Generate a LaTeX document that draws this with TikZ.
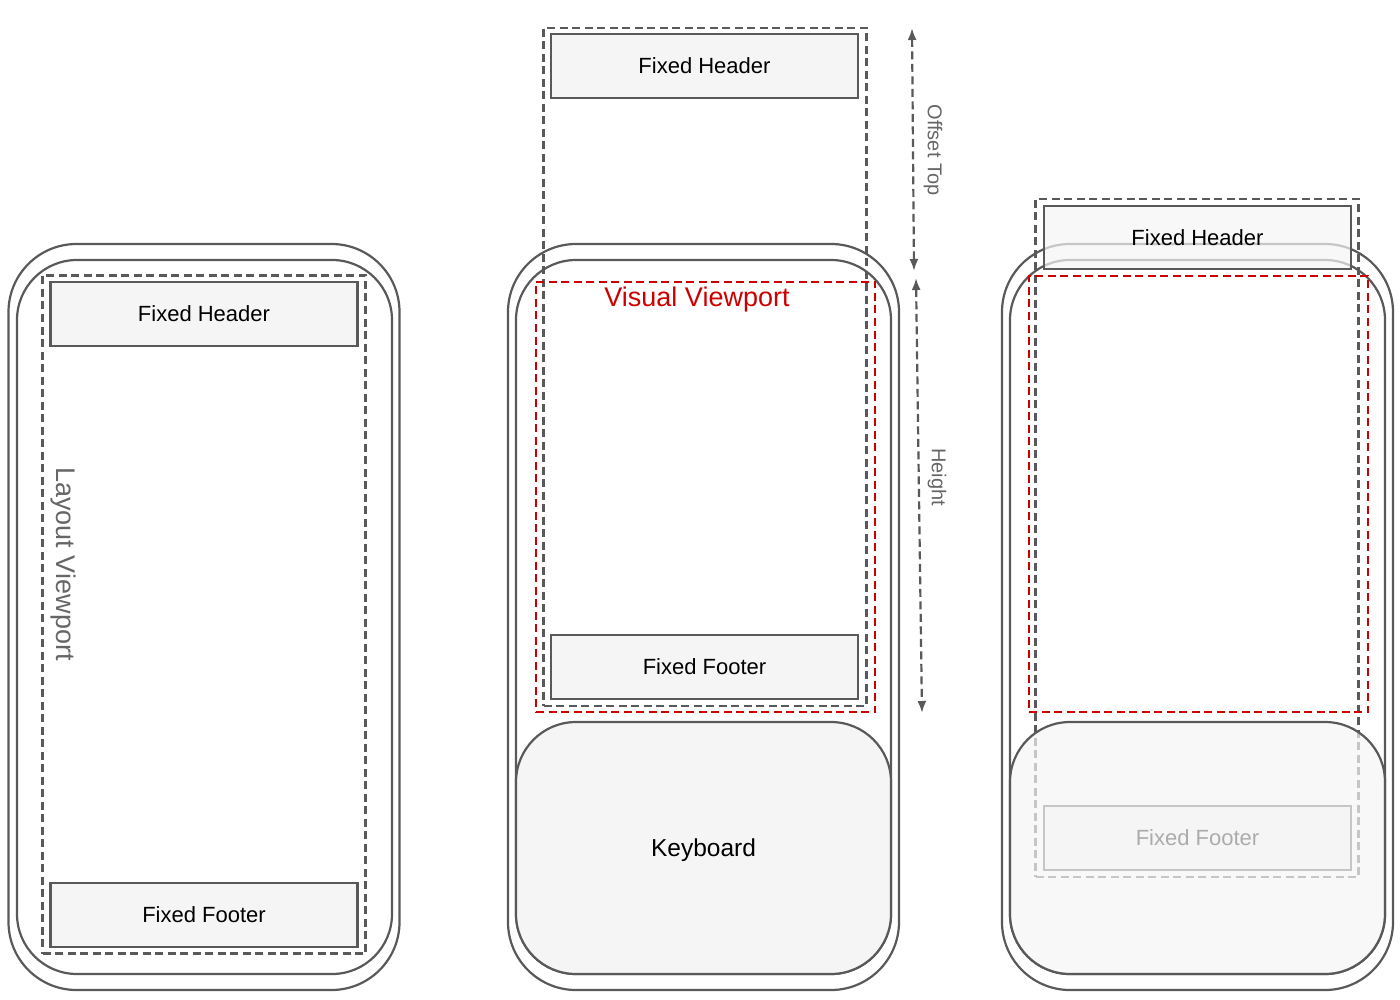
\documentclass[tikz,border=0pt]{standalone}
\usepackage{fontspec}
\setmainfont{Liberation Sans}
\usetikzlibrary{arrows.meta}
\definecolor{lc}{HTML}{595959}
\definecolor{bf}{HTML}{F5F5F5}
\definecolor{vr}{HTML}{CC0000}
\definecolor{tg}{HTML}{666666}
\begin{document}
\begin{tikzpicture}[x=1pt,y=-1pt,
  every node/.style={inner sep=0pt, outer sep=0pt},
  phoneout/.style={draw=lc, line width=2.2pt, rounded corners=68pt, minimum width=391pt, minimum height=746pt},
  phonein/.style={draw=lc, line width=2.2pt, rounded corners=60pt, minimum width=375pt, minimum height=714pt},
  layoutvp/.style={draw=lc, line width=2.2pt, dash pattern=on 8pt off 4.5pt, minimum width=323pt, minimum height=678pt},
  visualvp/.style={draw=vr, line width=2.2pt, dash pattern=on 8pt off 4.5pt, minimum width=339pt},
  fixedbox/.style={draw=lc, fill=bf, line width=2.2pt, minimum width=307pt, minimum height=64pt, font=\fontsize{22}{26}\selectfont},
  kbd/.style={draw=lc, fill=bf, line width=2.2pt, rounded corners=60pt, minimum width=375pt, minimum height=252pt},
  kbdtxt/.style={font=\fontsize{24.5}{28}\selectfont},
  bigtxt/.style={font=\fontsize{27}{32}\selectfont},
  dimtxt/.style={text=tg, font=\fontsize{20}{24}\selectfont, rotate=-90},
  dimarrow/.style={draw=lc, line width=2.2pt, dash pattern=on 8pt off 4.5pt, {Latex[length=12pt,width=9pt]}-{Latex[length=12pt,width=9pt]}}
]
\useasboundingbox (0,0) rectangle (1400,1000);

% ---------- Phone 1 ----------
\node[phoneout] (p1out) at (204,617) {};
\node[phonein]  (p1in)  at (204.5,617) {};
\node[layoutvp] (p1lvp) at (204,614.5) {};
\node[fixedbox] (p1head) at (204,314) {Fixed Header};
\node[fixedbox] (p1foot) at (204,915) {Fixed Footer};
\node[bigtxt, text=tg, rotate=-90] (p1lbl) at (63,564) {Layout Viewport};

% ---------- Phone 2 ----------
\node[phoneout] (p2out) at (703.5,617) {};
\node[phonein]  (p2in)  at (703.5,617) {};
\node[layoutvp] (p2lvp) at (705,367) {};
\node[fixedbox] (p2head) at (704.5,66) {Fixed Header};
\node[fixedbox] (p2foot) at (704.5,667) {Fixed Footer};
\node[visualvp, minimum height=430pt] (p2vvp) at (705.5,497) {};
\node[bigtxt, text=vr, anchor=base] (p2lbl) at (697,306) {Visual Viewport};
\node[kbd] (p2kbd) at (703.5,848) {};
\node[kbdtxt] (p2kbdlbl) at (703.5,850) {Keyboard};

% dimension arrows
\coordinate (otA) at (912,28);
\coordinate (otB) at (914,271);
\draw[dimarrow] (otA) -- (otB);
\node[dimtxt] (otlbl) at (933,150) {Offset Top};
\coordinate (hA) at (916,278);
\coordinate (hB) at (922,713);
\draw[dimarrow] (hA) -- (hB);
\node[dimtxt] (hlbl) at (937,477) {Height};

% ---------- Phone 3 ----------
\node[phoneout] (p3out) at (1197.5,617) {};
\node[phonein]  (p3in)  at (1197.5,617) {};
\node[layoutvp] (p3lvp) at (1197,538) {};
\node[visualvp, minimum height=436pt] (p3vvp) at (1198.5,494) {};
\node[fixedbox] (p3foot) at (1197.5,838) {Fixed Footer};
\node[kbd, fill opacity=0.7, draw opacity=1] (p3kbd) at (1197.5,848) {};
\node[fixedbox, fill opacity=0.7, text opacity=1, minimum height=63pt] (p3head) at (1197.5,237.5) {Fixed Header};
\end{tikzpicture}
\end{document}
